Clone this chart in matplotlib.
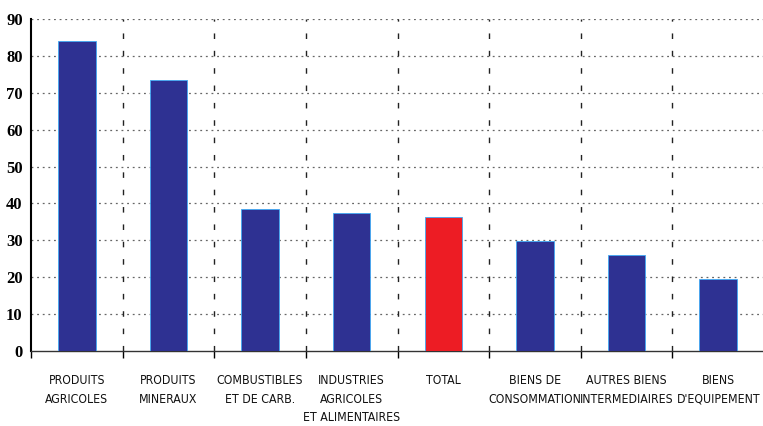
import matplotlib
matplotlib.use("Agg")
import matplotlib.pyplot as plt
from matplotlib import font_manager
import numpy as np

categories = ["PRODUITS\nAGRICOLES", "PRODUITS\nMINERAUX", "COMBUSTIBLES\nET DE CARB.",
              "INDUSTRIES\nAGRICOLES\nET ALIMENTAIRES", "TOTAL", "BIENS DE\nCONSOMMATION",
              "AUTRES BIENS\nINTERMEDIAIRES", "BIENS\nD'EQUIPEMENT"]
values = [84.0, 73.5, 38.6, 37.5, 36.2, 29.7, 26.0, 19.6]
colors = ["#2e3192"] * 4 + ["#ed1c24"] + ["#2e3192"] * 3
yticks = list(range(0, 91, 10))

names = {f.name for f in font_manager.fontManager.ttflist}
if "Liberation Sans Narrow" in names:
    lab_kw = dict(fontfamily="Liberation Sans Narrow", fontsize=10)
else:
    lab_kw = dict(fontfamily="DejaVu Sans", fontstretch="condensed", fontsize=8.8)

fig = plt.figure(figsize=(7.63, 4.26), dpi=100)
ax = fig.add_axes([31/763, 1-351/426, 733/763, 332/426])
x = np.arange(len(categories))
ax.bar(x, values, width=0.41, color=colors, edgecolor="#3fa9f5", linewidth=0.6, zorder=3)
ax.set_xlim(-0.5, len(categories) - 0.5)
ax.set_ylim(0, 90)
ax.set_yticks(yticks)
ax.set_yticklabels([str(v) for v in yticks], fontfamily="Liberation Serif", fontweight="bold", fontsize=12)
ax.tick_params(axis="y", length=0, pad=6)
for y in yticks[1:]:
    ax.axhline(y, color="#666666", linestyle=(0, (1.5, 3)), linewidth=0.9, zorder=1)
for b in np.arange(0.5, len(categories) - 0.5, 1):
    ax.axvline(b, color="#222222", linestyle=(0, (4, 8.5)), linewidth=1.0, zorder=1)
ax.set_xticks(np.arange(-0.5, len(categories) - 0.5, 1))
ax.set_xticklabels([])
ax.tick_params(axis="x", length=5, width=1, direction="out")
for xi, lab in zip(x, categories):
    ax.text(xi, -6.3, lab, ha="center", va="top", linespacing=1.55, transform=ax.transData,
            clip_on=False, color="#111111", **lab_kw)
for s in ["top", "right"]:
    ax.spines[s].set_visible(False)
ax.spines["left"].set_linewidth(1.5)
ax.spines["bottom"].set_linewidth(1.0)
ax.spines["bottom"].set_color("#333333")
fig.savefig("out.png", dpi=100)
